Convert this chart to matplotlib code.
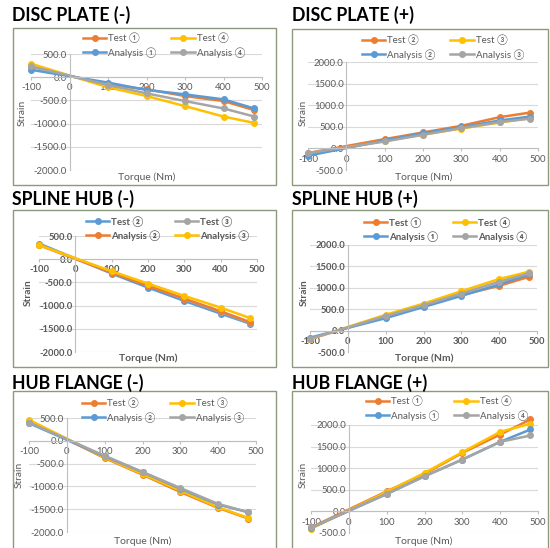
import matplotlib
matplotlib.use("Agg")
import matplotlib.pyplot as plt
from matplotlib.patches import Rectangle

plt.rcParams['font.family'] = ['Lato', 'DejaVu Sans']
plt.rcParams['axes.unicode_minus'] = False

# data
torque = [-100, 100, 200, 300, 400, 480]

# DISC PLATE (-)
dpm_test1 = [230, -167, -260, -406, -514, -710]
dpm_test4 = [290, -217, -406, -623, -848, -986]
dpm_ana1 = [160, -116, -275, -370, -478, -674]
dpm_ana4 = [232, -167, -348, -514, -674, -848]

# DISC PLATE (+)
dpp_test2 = [-108, 215, 369, 523, 723, 830]
dpp_test3 = [-130, 170, 320, 460, 600, 700]
dpp_ana2 = [-170, 185, 354, 492, 646, 738]
dpp_ana3 = [-108, 160, 315, 470, 610, 690]

# SPLINE HUB (-)
shm_test2 = [338, -309, -612, -899, -1173, -1388]
shm_test3 = [316, -288, -561, -863, -1137, -1374]
shm_ana2 = [302, -288, -576, -849, -1122, -1353]
shm_ana3 = [302, -259, -525, -791, -1043, -1266]

# SPLINE HUB (+)
shp_test1 = [-197, 331, 591, 827, 1047, 1260]
shp_test4 = [-200, 370, 630, 921, 1205, 1378]
shp_ana1 = [-165, 291, 551, 811, 1079, 1315]
shp_ana4 = [-190, 339, 591, 866, 1142, 1339]

# HUB FLANGE (-)
hfm_test2 = [440, -379, -743, -1122, -1472, -1706]
hfm_test3 = [459, -364, -729, -1093, -1458, -1691]
hfm_ana2 = [386, -342, -685, -1050, -1399, -1567]
hfm_ana3 = [400, -328, -685, -1035, -1385, -1567]

# HUB FLANGE (+)
hfp_test1 = [-371, 464, 867, 1354, 1780, 2128]
hfp_test4 = [-402, 449, 890, 1370, 1842, 2028]
hfp_ana1 = [-380, 402, 813, 1200, 1610, 1896]
hfp_ana4 = [-371, 402, 813, 1200, 1610, 1757]

ORANGE = '#ED7D31'
YELLOW = '#FFC000'
BLUE = '#5B9BD5'
GRAY = '#A5A5A5'
TXT = '#595959'

W, H = 550, 548
fig = plt.figure(figsize=(5.5, 5.48), dpi=100)


def fx(px):
    return px / W


def fy(py):
    return 1 - py / H


def draw_panel(title, title_xy, box, area, ylim, series, leg_xy, strain_xy, torque_xy, bold=False):
    bx0, by0, bx1, by1 = box
    fig.patches.append(Rectangle((fx(bx0), fy(by1)), (bx1 - bx0) / W, (by1 - by0) / H,
                                 transform=fig.transFigure, fill=False,
                                 edgecolor='#8a9a7a', lw=1.0))
    fig.text(fx(title_xy[0]), fy(title_xy[1]), title, fontsize=12.8, fontweight='bold',
             va='center', ha='left', color='black')

    x0, y0, x1, y1 = area
    ax = fig.add_axes([fx(x0), fy(y1), (x1 - x0) / W, (y1 - y0) / H])
    ax.set_xlim(-100, 500)
    ax.set_ylim(*ylim)
    ax.patch.set_alpha(0)
    for s in ['top', 'right']:
        ax.spines[s].set_visible(False)
    ax.spines['left'].set_position(('data', 0))
    ax.spines['bottom'].set_position(('data', 0))
    ax.spines['left'].set_color('#bfbfbf')
    ax.spines['bottom'].set_color('#bfbfbf')
    ax.spines['left'].set_linewidth(0.8)
    ax.spines['bottom'].set_linewidth(0.8)
    ax.set_xticks(range(-100, 501, 100))
    ax.set_yticks(range(ylim[0], ylim[1] + 1, 500))
    ax.set_yticklabels(['%.1f' % v for v in range(ylim[0], ylim[1] + 1, 500)])
    fw = 'bold' if bold else 'normal'
    ax.tick_params(axis='both', labelsize=6.8, colors=TXT, length=0, pad=2)
    ax.tick_params(axis='x', length=2.5, color='#bfbfbf')
    for lab in ax.get_xticklabels() + ax.get_yticklabels():
        lab.set_fontweight(fw)
    ax.yaxis.grid(True, color='#d9d9d9', lw=0.8)
    ax.set_axisbelow(True)

    handles = {}
    for label, vals, col in series:
        ln, = ax.plot(torque, vals, color=col, lw=1.8, marker='o', markersize=4,
                      clip_on=False, label=label)
        handles[label] = ln
    order = [series[0][0], series[2][0], series[1][0], series[3][0]]
    fig.legend([handles[k] for k in order], order, loc='upper left',
               bbox_to_anchor=(fx(leg_xy[0]), fy(leg_xy[1])), ncol=2, frameon=False,
               borderpad=0, borderaxespad=0, handlelength=2.4, handletextpad=0.2,
               columnspacing=1.5, labelspacing=0.35,
               prop={'size': 7, 'weight': fw}, labelcolor=TXT)

    fig.text(fx(strain_xy[0]), fy(strain_xy[1]), 'Strain', rotation=90, fontsize=7.3,
             color=TXT, ha='center', va='center', fontweight=fw)
    fig.text(fx(torque_xy[0]), fy(torque_xy[1]), 'Torque (Nm)', fontsize=7.5,
             color=TXT, ha='center', va='center', fontweight=fw)


draw_panel('DISC PLATE (-)', (12, 15), (13, 28, 276, 185), (31, 54, 262, 170), (-2000, 500),
           [('Test ①', dpm_test1, ORANGE), ('Test ④', dpm_test4, YELLOW),
            ('Analysis ①', dpm_ana1, BLUE), ('Analysis ④', dpm_ana4, GRAY)],
           (83, 33), (22, 113), (147, 177))

draw_panel('DISC PLATE (+)', (292, 15), (292, 29, 548, 185), (308, 62, 538, 170), (-500, 2000),
           [('Test ②', dpp_test2, ORANGE), ('Test ③', dpp_test3, YELLOW),
            ('Analysis ②', dpp_ana2, BLUE), ('Analysis ③', dpp_ana3, GRAY)],
           (362, 35), (303, 113), (424, 177))

draw_panel('SPLINE HUB (-)', (12, 199), (13, 210, 276, 367), (39, 236, 257, 352), (-2000, 500),
           [('Test ②', shm_test2, BLUE), ('Test ③', shm_test3, GRAY),
            ('Analysis ②', shm_ana2, ORANGE), ('Analysis ③', shm_ana3, YELLOW)],
           (86, 216), (28, 293), (148, 358), bold=True)

draw_panel('SPLINE HUB (+)', (292, 199), (292, 210, 548, 367), (310, 245, 537, 352), (-500, 2000),
           [('Test ①', shp_test1, ORANGE), ('Test ④', shp_test4, YELLOW),
            ('Analysis ①', shp_ana1, BLUE), ('Analysis ④', shp_ana4, GRAY)],
           (364, 217), (304, 293), (424, 358), bold=True)

draw_panel('HUB FLANGE (-)', (12, 383), (13, 391, 276, 560), (29, 418, 256, 532), (-2000, 500),
           [('Test ②', hfm_test2, ORANGE), ('Test ③', hfm_test3, YELLOW),
            ('Analysis ②', hfm_ana2, BLUE), ('Analysis ③', hfm_ana3, GRAY)],
           (82, 398), (19, 475), (143, 541))

draw_panel('HUB FLANGE (+)', (292, 383), (292, 391, 548, 560), (311, 425, 538, 533), (-500, 2000),
           [('Test ①', hfp_test1, ORANGE), ('Test ④', hfp_test4, YELLOW),
            ('Analysis ①', hfp_ana1, BLUE), ('Analysis ④', hfp_ana4, GRAY)],
           (366, 396), (303, 475), (424, 541))

fig.savefig('out.png', dpi=100)
